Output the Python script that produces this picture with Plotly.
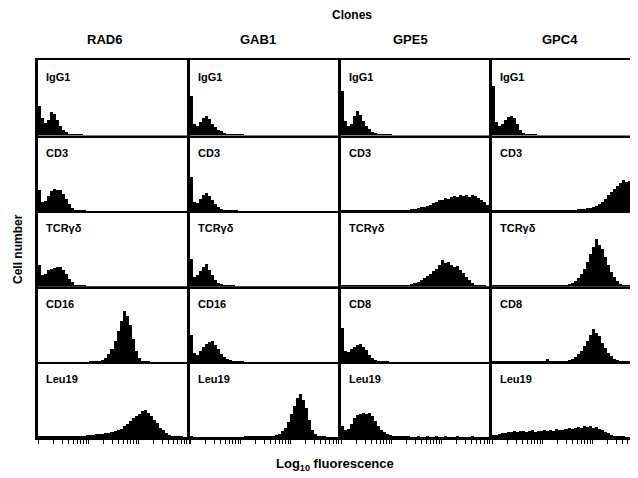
import math
import plotly.graph_objects as go
from plotly.subplots import make_subplots

clones = ["RAD6", "GAB1", "GPE5", "GPC4"]
row_markers = [
    ["IgG1", "IgG1", "IgG1", "IgG1"],
    ["CD3", "CD3", "CD3", "CD3"],
    ["TCRγδ", "TCRγδ", "TCRγδ", "TCRγδ"],
    ["CD16", "CD16", "CD8", "CD8"],
    ["Leu19", "Leu19", "Leu19", "Leu19"],
]

# cell counts per log-fluorescence channel (50 channels spanning 3 decades)
rad6_igg1 = [30, 18, 13, 16, 24, 22, 16, 10, 6, 3.5,
             2, 1.2, 1, 0.8, 0.7, 0.6, 0.6, 0.5, 0.6, 0.5,
             0.6, 0.5, 0.6, 0.5, 0.5, 0.6, 0.5, 0.5, 0.6, 0.5,
             0.5, 0.6, 0.5, 0.5, 0.5, 0.6, 0.5, 0.5, 0.5, 0.6,
             0.5, 0.5, 0.6, 0.5, 0.5, 0.5, 0.6, 0.5, 0.5, 0.5]
gab1_igg1 = [40, 12, 10, 14, 18, 20, 17, 12, 9, 6,
             5, 3, 2, 2, 1.2, 1, 0.8, 0.7, 0.6, 0.6,
             0.5, 0.6, 0.5, 0.5, 0.6, 0.5, 0.5, 0.6, 0.5, 0.5,
             0.5, 0.6, 0.5, 0.5, 0.5, 0.6, 0.5, 0.5, 0.6, 0.5,
             0.5, 0.5, 0.6, 0.5, 0.5, 0.6, 0.5, 0.5, 0.5, 0.5]
gpe5_igg1 = [45, 15, 10, 12, 20, 25, 21, 15, 10, 7,
             4, 3, 2, 1.2, 1, 0.8, 0.7, 0.6, 0.6, 0.5,
             0.6, 0.5, 0.5, 0.6, 0.5, 0.5, 0.6, 0.5, 0.5, 0.6,
             0.5, 0.5, 0.6, 0.5, 0.5, 0.6, 0.5, 0.5, 0.5, 0.6,
             0.5, 0.5, 0.6, 0.5, 0.5, 0.5, 0.6, 0.5, 0.5, 0.5]
gpc4_igg1 = [50, 14, 10, 12, 16, 19, 20, 18, 12, 6,
             3, 1.5, 1, 0.8, 0.7, 0.6, 0.6, 0.5, 0.6, 0.5,
             0.6, 0.5, 0.5, 0.6, 0.5, 0.5, 0.6, 0.5, 0.5, 0.6,
             0.5, 0.5, 0.6, 0.5, 0.5, 0.6, 0.5, 0.5, 0.5, 0.6,
             0.5, 0.5, 0.6, 0.5, 0.5, 0.5, 0.6, 0.5, 0.5, 0.5]

rad6_cd3 = [22, 10, 11, 16, 21, 23, 22, 22, 18, 13,
            8, 4, 2, 1.2, 0.8, 0.7, 0.6, 0.6, 0.5, 0.6,
            0.5, 0.6, 0.5, 0.5, 0.6, 0.5, 0.5, 0.6, 0.5, 0.5,
            0.5, 0.6, 0.5, 0.5, 0.5, 0.6, 0.5, 0.5, 0.6, 0.5,
            0.5, 0.5, 0.6, 0.5, 0.5, 0.6, 0.5, 0.5, 0.5, 0.5]
gab1_cd3 = [35, 10, 9, 13, 17, 19, 16, 12, 8, 5,
            3, 2, 1.2, 1, 0.8, 0.7, 0.6, 0.6, 0.5, 0.5,
            0.6, 0.5, 0.5, 0.6, 0.5, 0.5, 0.6, 0.5, 0.5, 0.6,
            0.5, 0.5, 0.6, 0.5, 0.5, 0.6, 0.5, 0.5, 0.5, 0.6,
            0.5, 0.5, 0.6, 0.5, 0.5, 0.5, 0.6, 0.5, 0.5, 0.5]
gpe5_cd3 = [2, 0.8, 0.7, 0.7, 0.8, 0.7, 0.7, 0.8, 0.7, 0.8,
            0.7, 0.8, 0.8, 0.7, 0.9, 0.8, 0.9, 1, 0.9, 1,
            1.5, 1.5, 2, 3, 3, 4, 5, 5, 6, 7,
            9, 10, 12, 12, 14, 13, 15, 16, 15, 17,
            16, 17, 15, 17, 16, 14, 12, 10, 7, 4]
gpc4_cd3 = [0.8, 0.7, 0.8, 0.7, 0.7, 0.8, 0.7, 0.8, 0.7, 0.8,
            0.7, 0.8, 0.7, 0.8, 0.8, 0.7, 0.8, 0.9, 0.8, 0.9,
            0.8, 0.9, 1, 1, 1.5, 1.5, 2, 2, 2.5, 3,
            3, 4, 4, 5, 6, 8, 10, 13, 17, 20,
            23, 26, 29, 32, 30, 31, 25, 18, 12, 8]

rad6_tcr = [22, 12, 13, 17, 18, 19, 20, 20, 17, 13,
            8, 5, 2, 1, 0.8, 0.7, 0.6, 0.6, 0.5, 0.6,
            0.5, 0.6, 0.5, 0.5, 0.6, 0.5, 0.5, 0.6, 0.5, 0.5,
            0.5, 0.6, 0.5, 0.5, 0.5, 0.6, 0.5, 0.5, 0.6, 0.5,
            0.5, 0.5, 0.6, 0.5, 0.5, 0.6, 0.5, 0.5, 0.5, 0.5]
gab1_tcr = [28, 10, 12, 16, 20, 23, 17, 12, 7, 4,
            2.5, 1.5, 1, 0.8, 0.7, 0.6, 0.6, 0.5, 0.6, 0.5,
            0.6, 0.5, 0.5, 0.6, 0.5, 0.5, 0.6, 0.5, 0.5, 0.6,
            0.5, 0.5, 0.6, 0.5, 0.5, 0.6, 0.5, 0.5, 0.5, 0.6,
            0.5, 0.5, 0.6, 0.5, 0.5, 0.5, 0.6, 0.5, 0.5, 0.5]
gpe5_tcr = [0.8, 0.7, 0.7, 0.8, 0.7, 0.7, 0.8, 0.7, 0.8, 0.7,
            0.8, 0.7, 0.8, 0.8, 0.7, 0.8, 0.9, 0.8, 0.9, 0.8,
            1, 1.5, 2, 3, 4, 5, 7, 9, 11, 13,
            16, 18, 22, 27, 24, 25, 22, 20, 21, 17,
            14, 10, 7, 4, 2, 1, 0.8, 0.7, 0.6, 0.6]
gpc4_tcr = [0.7, 0.7, 0.8, 0.7, 0.7, 0.8, 0.7, 0.7, 0.8, 0.7,
            0.7, 0.8, 0.7, 0.8, 0.7, 0.8, 0.7, 0.8, 0.8, 0.7,
            0.8, 1, 1, 1.5, 2, 3, 4, 6, 9, 13,
            18, 25, 33, 40, 48, 42, 38, 30, 22, 15,
            10, 6, 3, 2, 1, 0.8, 0.7, 0.7, 0.6, 0.6]

rad6_cd16 = [0.6, 0.5, 0.6, 0.5, 0.5, 0.6, 0.5, 0.6, 0.5, 0.5,
             0.6, 0.5, 0.6, 0.5, 0.6, 0.5, 0.6, 0.7, 1, 1.5,
             2, 3, 5, 9, 14, 22, 32, 42, 52, 47,
             38, 24, 12, 5, 2, 1, 0.7, 0.6, 0.5, 0.6,
             0.5, 0.5, 0.6, 0.5, 0.5, 0.6, 0.5, 0.5, 0.5, 0.5]
gab1_cd16 = [28, 10, 8, 12, 16, 19, 21, 22, 18, 14,
             9, 6, 4, 3, 2, 1, 0.8, 0.7, 0.6, 0.6,
             0.5, 0.6, 0.5, 0.5, 0.6, 0.5, 0.5, 0.6, 0.5, 0.5,
             0.5, 0.6, 0.5, 0.5, 0.5, 0.6, 0.5, 0.5, 0.6, 0.5,
             0.5, 0.5, 0.6, 0.5, 0.5, 0.6, 0.5, 0.5, 0.5, 0.5]
gpe5_cd8 = [35, 12, 11, 14, 16, 18, 19, 16, 13, 8,
            5, 3, 2, 1, 0.8, 0.7, 0.6, 0.6, 0.5, 0.6,
            0.5, 0.6, 0.5, 0.5, 0.6, 0.5, 0.5, 0.6, 0.5, 0.5,
            0.5, 0.6, 0.5, 0.5, 0.5, 0.6, 0.5, 0.5, 0.6, 0.5,
            0.5, 0.5, 0.6, 0.5, 0.5, 0.6, 0.5, 0.5, 0.5, 0.5]
gpc4_cd8 = [0.7, 0.7, 0.8, 0.7, 0.7, 0.8, 0.7, 0.7, 0.8, 0.7,
            0.7, 0.8, 0.7, 0.7, 0.8, 0.7, 0.8, 0.7, 4, 0.7,
            1, 1, 1.5, 2, 2, 3, 4, 6, 9, 12,
            17, 22, 28, 34, 30, 27, 20, 15, 10, 7,
            4, 3, 2, 1, 0.8, 0.7, 0.6, 0.7, 0.6, 0.6]

rad6_leu19 = [2, 0.8, 0.8, 0.7, 0.8, 0.8, 0.7, 0.8, 0.8, 0.9,
              0.9, 1, 1, 1.5, 2, 2, 2.5, 3, 3, 3.5,
              4, 4, 5, 5, 6, 7, 8, 9, 12, 14,
              17, 20, 22, 24, 27, 28, 25, 22, 18, 15,
              10, 8, 5, 3, 2, 1.5, 1, 0.7, 0.6, 0.6]
gab1_leu19 = [2, 0.6, 0.6, 0.5, 0.6, 0.6, 0.5, 0.6, 0.6, 0.5,
              0.6, 0.6, 0.5, 0.6, 0.6, 0.5, 0.6, 0.6, 0.7, 0.7,
              0.7, 0.8, 0.8, 1, 1, 1.5, 2, 2, 3, 4,
              7, 10, 16, 24, 32, 40, 44, 38, 30, 18,
              8, 4, 2, 1, 0.7, 0.6, 0.5, 0.6, 0.5, 0.5]
gpe5_leu19 = [12, 8, 9, 14, 20, 23, 24, 25, 24, 25,
              22, 17, 12, 8, 6, 4, 3, 2, 1.5, 1,
              0.8, 0.7, 0.7, 0.6, 0.6, 0.7, 0.6, 0.6, 0.7, 0.6,
              0.6, 0.7, 0.6, 0.6, 0.7, 0.6, 0.6, 0.6, 0.7, 0.6,
              0.6, 0.6, 0.6, 0.7, 0.6, 0.6, 0.6, 0.6, 0.6, 0.6]
gpc4_leu19 = [3, 3, 4, 5, 5, 6, 6, 7, 6, 7,
              7, 6, 7, 8, 6, 7, 7, 8, 7, 8,
              7, 9, 8, 8, 9, 10, 9, 10, 11, 10,
              12, 11, 12, 10, 11, 9, 8, 6, 5, 3,
              2, 1.5, 1, 0.7, 0.6, 0.6, 0.6, 0.6, 0.6, 0.6]

panels = [
    [rad6_igg1, gab1_igg1, gpe5_igg1, gpc4_igg1],
    [rad6_cd3, gab1_cd3, gpe5_cd3, gpc4_cd3],
    [rad6_tcr, gab1_tcr, gpe5_tcr, gpc4_tcr],
    [rad6_cd16, gab1_cd16, gpe5_cd8, gpc4_cd8],
    [rad6_leu19, gab1_leu19, gpe5_leu19, gpc4_leu19],
]

N_CHANNELS = 50
DECADES = 3.0
chan_w = DECADES / N_CHANNELS
col_px = [152, 151, 151, 146]  # last column is cut off by the page edge

fig = make_subplots(rows=5, cols=4, horizontal_spacing=0, vertical_spacing=0,
                    column_widths=col_px)

FONT = "Liberation Sans, Arial, sans-serif"

tickvals = []
for d in range(3):
    for k in range(1, 10):
        tickvals.append(d + math.log10(k))
tickvals.append(3.0)

for r in range(5):
    for c in range(4):
        vals = panels[r][c]
        xs = [(i + 0.5) * chan_w for i in range(len(vals))]
        fig.add_trace(go.Bar(x=xs, y=vals, width=chan_w, marker=dict(color="black", line=dict(width=0)),
                             showlegend=False, hoverinfo="skip"), row=r + 1, col=c + 1)
        xmax = DECADES * col_px[c] / 151.0
        fig.update_xaxes(row=r + 1, col=c + 1, range=[0, xmax], showgrid=False, zeroline=False,
                         showline=True, linecolor="black", linewidth=2,
                         mirror=(r == 0),
                         ticks="outside" if r == 4 else "", tickvals=tickvals if r == 4 else None,
                         ticklen=4, tickwidth=1, tickcolor="black", showticklabels=False)
        fig.update_yaxes(row=r + 1, col=c + 1, range=[0, 75.6], showgrid=False, zeroline=False,
                         showline=True, linecolor="black", linewidth=3,
                         ticks="", showticklabels=False)
        idx = r * 4 + c + 1
        sfx = "" if idx == 1 else str(idx)
        fig.add_annotation(text="<b>%s</b>" % row_markers[r][c], xref="x%s domain" % sfx,
                           yref="y%s domain" % sfx, x=0.04, y=0.88, xanchor="left", yanchor="top",
                           showarrow=False, font=dict(family=FONT, size=11, color="black"))

# titles
title_x = [(104 - 38) / 600, (258 - 38) / 600, (410 - 38) / 600, (560 - 38) / 600]
for name, tx in zip(clones, title_x):
    fig.add_annotation(text="<b>%s</b>" % name, xref="paper", yref="paper", x=tx, y=1.053,
                       xanchor="center", yanchor="middle", showarrow=False,
                       font=dict(family=FONT, size=13, color="black"))
fig.add_annotation(text="<b>Clones</b>", xref="paper", yref="paper", x=(352 - 38) / 600, y=1.119,
                   xanchor="center", yanchor="middle", showarrow=False,
                   font=dict(family=FONT, size=12, color="black"))
fig.add_annotation(text="<b>Cell number</b>", xref="paper", yref="paper", x=(18 - 38) / 600, y=0.5,
                   xanchor="center", yanchor="middle", textangle=-90, showarrow=False,
                   font=dict(family=FONT, size=12, color="black"))
fig.add_annotation(text="<b>Log<sub>10</sub> fluorescence</b>", xref="paper", yref="paper",
                   x=(335 - 38) / 600, y=-0.071, xanchor="center", yanchor="middle", showarrow=False,
                   font=dict(family=FONT, size=13, color="black"))

# page body has an 8px default margin: shrink the figure so the plot lands where the reference has it
fig.update_layout(width=630, height=470, margin=dict(l=30, r=0, t=52, b=40),
                  paper_bgcolor="white", plot_bgcolor="white", bargap=0)

fig.write_html("out.html")
